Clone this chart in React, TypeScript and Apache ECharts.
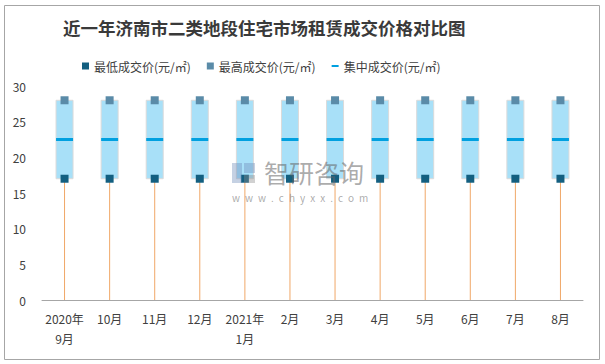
import React, { useEffect, useRef } from "react";
import * as echarts from "echarts";

const categories = ["2020年\n9月", "10月", "11月", "12月", "2021年\n1月", "2月", "3月", "4月", "5月", "6月", "7月", "8月"];
const lowPrice = [17, 17, 17, 17, 17, 17, 17, 17, 17, 17, 17, 17];
const highPrice = [28, 28, 28, 28, 28, 28, 28, 28, 28, 28, 28, 28];
const midPrice = [22.5, 22.5, 22.5, 22.5, 22.5, 22.5, 22.5, 22.5, 22.5, 22.5, 22.5, 22.5];
const yTicks = [0, 5, 10, 15, 20, 25, 30];

const LOW = "最低成交价(元/㎡)";
const HIGH = "最高成交价(元/㎡)";
const MID = "集中成交价(元/㎡)";

export default function App() {
  const ref = useRef<HTMLDivElement>(null);
  useEffect(() => {
    if (!ref.current) return;
    const chart = echarts.init(ref.current, null, { renderer: "svg" });
    const font = "'Noto Sans CJK SC', 'Noto Sans', sans-serif";
    const boxData = categories.map((_, i) => [i, lowPrice[i], highPrice[i]]);
    chart.setOption({
      animation: false,
      backgroundColor: "#ffffff",
      title: {
        text: "近一年济南市二类地段住宅市场租赁成交价格对比图",
        left: 58,
        top: 14,
        textStyle: { fontFamily: font, fontSize: 17.5, fontWeight: "bold", color: "#3a3a3a" },
      },
      legend: {
        top: 55,
        left: 77,
        itemGap: 16,
        itemWidth: 7,
        itemHeight: 7,
        textStyle: { fontFamily: font, fontSize: 12, color: "#404040" },
        data: [
          { name: LOW, icon: "rect" },
          { name: HIGH, icon: "rect" },
          { name: MID, icon: "path://M0,0h7v2h-7z" },
        ],
      },
      grid: { left: 42, right: 22, top: 86, bottom: 64 },
      xAxis: {
        type: "category",
        data: categories,
        axisLine: { lineStyle: { color: "#a6a6a6", width: 1 } },
        axisTick: { show: false },
        axisLabel: { color: "#404040", fontSize: 12, fontFamily: font, margin: 8, lineHeight: 20, interval: 0 },
      },
      yAxis: {
        type: "value",
        min: yTicks[0],
        max: yTicks[yTicks.length - 1],
        interval: 5,
        splitLine: { show: false },
        axisLine: { show: false },
        axisTick: { show: false },
        axisLabel: { color: "#404040", fontSize: 12, fontFamily: font, margin: 16 },
      },
      graphic: [
        {
          type: "rect",
          left: 2,
          top: 3,
          shape: { width: 595, height: 354 },
          style: { fill: "none", stroke: "#a6a6a6", lineWidth: 1 },
          silent: true,
          z: -10,
        },
        {
          type: "group",
          left: 232,
          top: 159,
          z: 100,
          children: [
            { type: "rect", z: 100, shape: { x: 0, y: 4, width: 10, height: 20 }, style: { fill: "rgba(110,140,185,0.4)" } },
            { type: "rect", z: 100, shape: { x: 12, y: 4, width: 11, height: 10 }, style: { fill: "rgba(110,140,185,0.4)" } },
            { type: "rect", z: 100, shape: { x: 12, y: 16, width: 11, height: 8 }, style: { fill: "rgba(140,140,140,0.4)" } },
            {
              type: "text",
              z: 100,
              x: 32,
              y: 0,
              style: { text: "智研咨询", font: "25px " + font, fill: "rgba(100,100,100,0.55)" },
            },
            {
              type: "text",
              z: 100,
              x: 0,
              y: 33,
              style: { text: "w\u2002w\u2002w\u2002.\u2002c\u2002h\u2002y\u2002x\u2002x\u2002.\u2002c\u2002o\u2002m", font: "10px " + font, fill: "rgba(100,100,100,0.55)" },
            },
          ],
        },
      ],
      series: [
        {
          type: "custom",
          name: "box",
          z: 1,
          data: boxData,
          encode: { x: 0, y: [1, 2] },
          renderItem: (params: any, api: any) => {
            const i = api.value(0);
            const lo = api.coord([i, api.value(1)]);
            const hi = api.coord([i, api.value(2)]);
            const base = api.coord([i, 0]);
            const w = 17;
            return {
              type: "group",
              children: [
                {
                  type: "line",
                  shape: { x1: lo[0], y1: lo[1], x2: base[0], y2: base[1] },
                  style: { stroke: "#f0a868", lineWidth: 1 },
                },
                {
                  type: "rect",
                  shape: { x: hi[0] - w / 2, y: hi[1], width: w, height: lo[1] - hi[1] },
                  style: { fill: "#a8e0f8", stroke: "#dadada", lineWidth: 1 },
                },
              ],
            };
          },
        },
        {
          type: "scatter",
          name: MID,
          data: midPrice,
          symbol: "rect",
          symbolSize: [17, 3],
          itemStyle: { color: "#00a0e0", opacity: 1 },
          z: 3,
        },
        {
          type: "scatter",
          name: LOW,
          data: lowPrice,
          symbol: "rect",
          symbolSize: 8,
          itemStyle: { color: "#135f80", opacity: 1 },
          z: 4,
        },
        {
          type: "scatter",
          name: HIGH,
          data: highPrice,
          symbol: "rect",
          symbolSize: 8,
          itemStyle: { color: "#5a8ba8", opacity: 1 },
          z: 4,
        },
      ],
    });
    return () => chart.dispose();
  }, []);
  return <div ref={ref} style={{ position: "fixed", left: 0, top: 0, width: 605, height: 364 }} />;
}
